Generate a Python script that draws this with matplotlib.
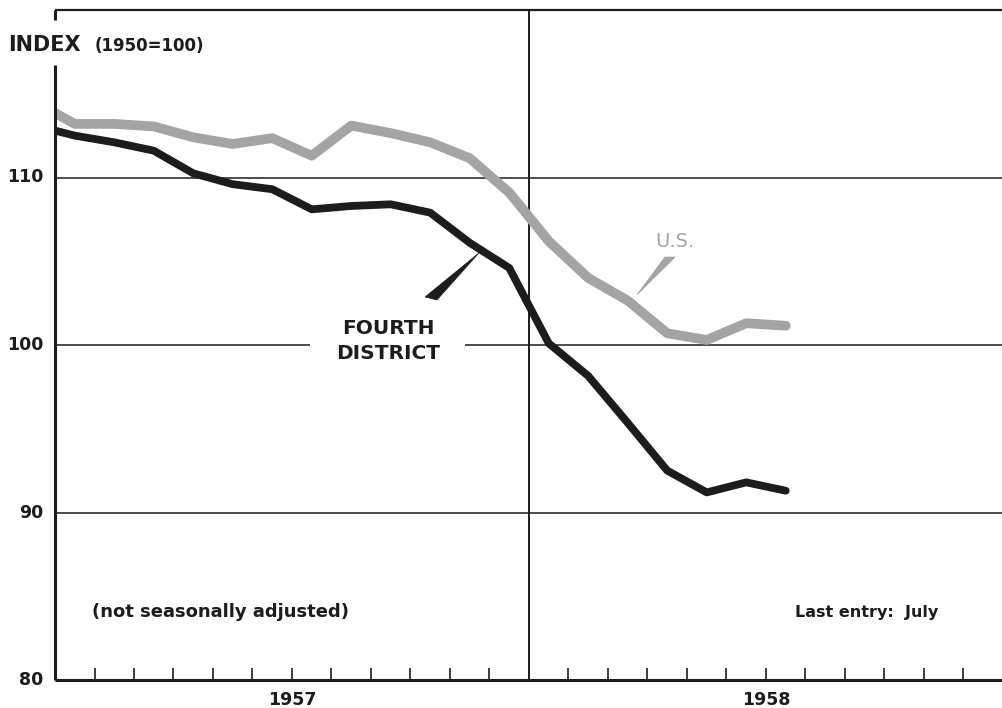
import numpy as np
import matplotlib.pyplot as plt
from matplotlib.patches import Polygon

# monthly index values, Dec 1956 .. Jul 1958 (1950=100)
months = np.arange(-1, 19)          # -1 = Dec 1956, 0 = Jan 1957, ..., 18 = Jul 1958
us = [114.5, 113.2, 113.2, 113.05, 112.4, 112.0, 112.35, 111.3, 113.1, 112.65, 112.1, 111.15,
      109.1, 106.2, 104.0, 102.65, 100.7, 100.3, 101.3, 101.15]
fourth = [113.1, 112.5, 112.1, 111.6, 110.25, 109.6, 109.3, 108.1, 108.3, 108.4, 107.9, 106.1,
          104.6, 100.1, 98.15, 95.35, 92.5, 91.2, 91.8, 91.3]
yticks = [80, 90, 100, 110]
years = ['1957', '1958']

INK = '#1c1c1c'
GREY = '#a4a4a4'

fig = plt.figure(figsize=(10.02, 7.08), dpi=100)
ax = fig.add_axes([55/1002, 28/708, 948/1002, 670/708])
ax.set_xlim(0, 24); ax.set_ylim(80, 120)
for s in ax.spines.values():
    s.set_visible(False)
ax.set_xticks([]); ax.set_yticks([])

x = months + 0.5
ax.plot(x, us, color=GREY, lw=7.0, solid_joinstyle='round', solid_capstyle='round', zorder=3)
ax.plot(x, fourth, color=INK, lw=5.6, solid_joinstyle='round', solid_capstyle='round', zorder=4)

# grid / frame
ax.hlines([90, 110], 0, 24, color=INK, lw=1.1, zorder=2)
ax.hlines(100, 0, 6.45, color=INK, lw=1.1, zorder=2)
ax.hlines(100, 10.38, 24, color=INK, lw=1.1, zorder=2)
ax.hlines(120, 0, 24, color=INK, lw=1.6, zorder=2, clip_on=False)
ax.hlines(80, 0, 24, color=INK, lw=2.2, zorder=5, clip_on=False)
ax.vlines(0, 80, 116.7, color=INK, lw=2.2, zorder=5, clip_on=False)
ax.vlines(0, 119.4, 120, color=INK, lw=2.2, zorder=5, clip_on=False)
ax.vlines(12, 80, 120, color=INK, lw=1.4, zorder=2)
ticks = [m for m in range(1, 24) if m != 12]
ax.vlines(ticks, 80, 80.72, color=INK, lw=1.2, zorder=5)

# pointers
ax.add_patch(Polygon([[10.73, 105.49], [9.37, 102.87], [9.67, 102.69]], closed=True,
                     fc=INK, ec=INK, lw=0.5, zorder=5))
ax.add_patch(Polygon([[14.73, 102.99], [15.44, 105.25], [15.70, 105.25]], closed=True,
                     fc=GREY, ec=GREY, lw=0.5, zorder=5))

def px(xp, yp):
    return xp/1002, 1 - yp/708

bold = dict(fontweight='bold', color=INK, family='DejaVu Sans')
for v in yticks:
    ax.text(-0.3, v, str(v), ha='right', va='center', fontsize=12.5, **bold)
for i, yr in enumerate(years):
    ax.text(6 + 12*i, 79.35, yr, ha='center', va='top', fontsize=12.5, **bold)

fig.text(*px(8, 45), 'INDEX', ha='left', va='center', fontsize=15, **bold)
fig.text(*px(95, 46), '(1950=100)', ha='left', va='center', fontsize=12, **bold)
fig.text(*px(92, 612), '(not seasonally adjusted)', ha='left', va='center', fontsize=13, **bold)
fig.text(*px(795, 613), 'Last entry:  July', ha='left', va='center', fontsize=11.5, **bold)
fig.text(*px(388, 341), 'FOURTH\nDISTRICT', ha='center', va='center', fontsize=14.5,
         linespacing=1.4, **bold)
fig.text(*px(675, 241), 'U.S.', ha='center', va='center', fontsize=14, color=GREY,
         family='DejaVu Sans')

fig.savefig('out.png', dpi=100)
